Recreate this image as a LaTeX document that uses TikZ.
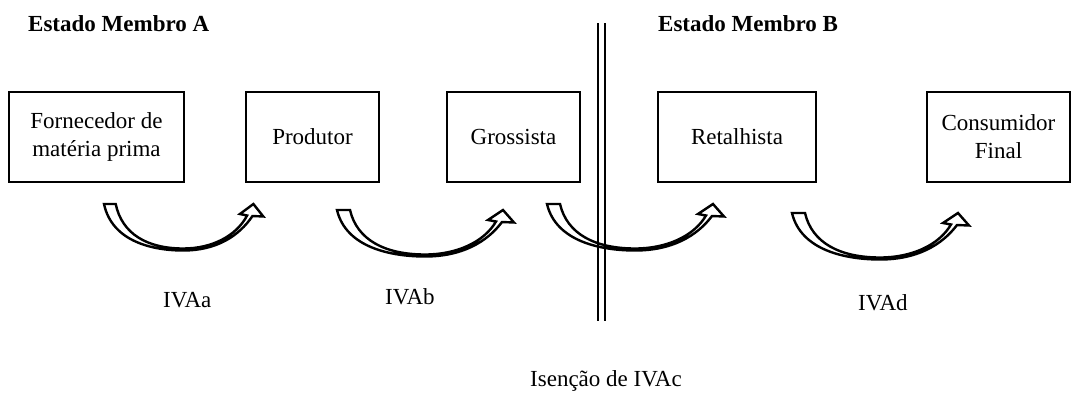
\documentclass[tikz,border=0pt]{standalone}
\usepackage{fontspec}
\setmainfont{Liberation Serif}
\begin{document}
\begin{tikzpicture}[x=1pt,y=-1pt,
  box/.style={draw=black, line width=1.3pt, inner sep=0pt, align=center,
    minimum height=90pt, font=\fontsize{23}{28}\selectfont},
  lbl/.style={inner sep=0pt, anchor=base west, font=\fontsize{23}{28}\selectfont},
  ttl/.style={inner sep=0pt, anchor=base west, font=\fontsize{23}{28}\selectfont\bfseries},
  sep/.style={draw=black, line width=1.5pt},
  curvarrow/.pic={
    \filldraw[fill=white, draw=black, line width=2.4pt, line join=miter]
      (0,0) .. controls (9,38) and (55,46.5) .. (88,46.5)
            .. controls (125,46.5) and (150,32) .. (165,12)
      -- (177,12.5) -- (166,0) -- (151,10) -- (159,11.5)
            .. controls (147,32) and (120,44.5) .. (88,44.5)
            .. controls (48,44.5) and (20,30) .. (13,0) -- cycle;
  }]
\useasboundingbox (0,0) rectangle (1075,392);

% titles
\node[ttl] (ta) at (28,31) {Estado Membro A};
\node[ttl] (tb) at (658,31) {Estado Membro B};

% boxes
\node[box, minimum width=175pt] (forn) at (96.5,137) {Fornecedor de\\matéria prima};
\node[box, minimum width=133pt] (prod) at (312.5,137) {Produtor};
\node[box, minimum width=133pt] (gros) at (513.5,137) {Grossista};
\node[box, minimum width=158pt] (reta) at (737,137) {Retalhista};
\node[box, minimum width=143pt] (cons) at (998.5,137) {Consumidor\\Final};

% curved hollow arrows
\coordinate (a1) at (104,204);
\coordinate (a2) at (337,210);
\coordinate (a3) at (547,204);
\coordinate (a4) at (792,213);
\pic[xscale=0.9] at (a1) {curvarrow};
\pic at (a2) {curvarrow};
\pic at (a3) {curvarrow};
\pic at (a4) {curvarrow};

% border between member states
\coordinate (s1t) at (598,23);
\coordinate (s1b) at (598,321);
\coordinate (s2t) at (605,23);
\coordinate (s2b) at (605,321);
\draw[sep] (s1t) -- (s1b);
\draw[sep] (s2t) -- (s2b);

% labels
\node[lbl] (ivaa) at (163,307) {IVAa};
\node[lbl] (ivab) at (385,304) {IVAb};
\node[lbl] (ivad) at (858,310) {IVAd};
\node[lbl] (isen) at (530,386) {Isenção de IVAc};
\end{tikzpicture}
\end{document}
